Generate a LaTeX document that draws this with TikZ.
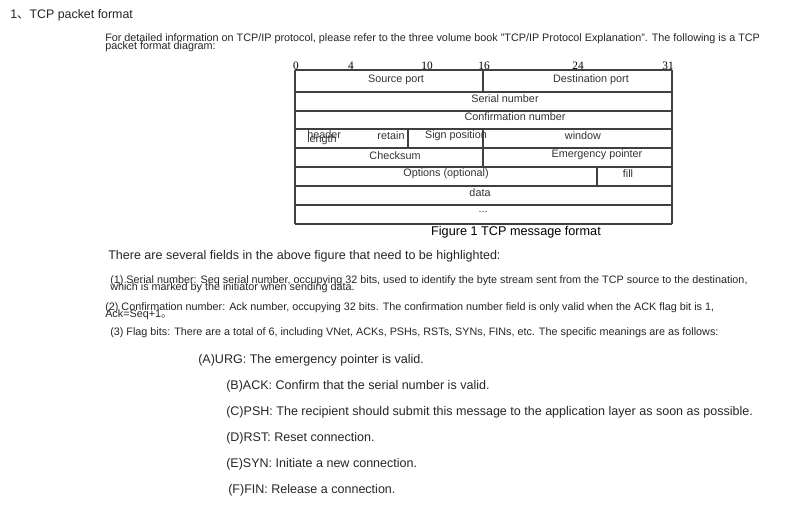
\documentclass[tikz,border=0pt]{standalone}
\usepackage{fontspec}
\setmainfont{Liberation Sans}
\newfontfamily\serifnum{Liberation Serif}
\newfontfamily\cjk{Noto Sans CJK SC}
\begin{document}
\begin{tikzpicture}[x=0.75pt,y=-0.75pt,
  txt/.style={anchor=west,inner sep=0pt,text=black!85},
  small/.style={txt,font=\fontsize{8.1}{9}\selectfont},
  big/.style={txt,font=\fontsize{9.4}{11}\selectfont},
  cell/.style={inner sep=0pt,font=\fontsize{8.1}{8}\selectfont,text=black!80},
  num/.style={inner sep=0pt,font=\serifnum\fontsize{8.5}{9}\selectfont},
  grid/.style={draw=black!75,line width=0.8pt}]
\useasboundingbox[fill=white] (0,0) rectangle (789,506);
\node[txt,font=\fontsize{9.3}{11}\selectfont] (title) at (10,15) {1{\cjk 、}TCP packet format};
\node[small] (i1) at (105,39) {For detailed information on TCP/IP protocol, please refer to the three volume book "TCP/IP Protocol Explanation". The following is a TCP};
\node[small] (i2) at (105,47) {packet format diagram:};
% numbers
\node[num] (n0) at (296,66) {0};
\node[num] (n4) at (351,66) {4};
\node[num] (n10) at (427,66) {10};
\node[num] (n16) at (484,66) {16};
\node[num] (n24) at (578,66) {24};
\node[num] (n31) at (668,66) {31};
% table
\foreach \y in {70,92,111,129,148,167,186,205,224} \draw[grid] (295,\y) -- (672,\y);
\draw[grid] (295,70) -- (295,224);
\draw[grid] (672,70) -- (672,224);
\draw[grid] (483,70) -- (483,92);
\draw[grid] (483,129) -- (483,167);
\draw[grid] (408,129) -- (408,148);
\draw[grid] (597,167) -- (597,186);
\node[cell] (sp) at (396,80) {Source port};
\node[cell] (dp) at (591,80) {Destination port};
\node[cell] (sn) at (505,99) {Serial number};
\node[cell] (cn) at (515,117) {Confirmation number};
\node[cell,anchor=west] (hl1) at (307,135) {header};
\node[cell,anchor=west] (hl2) at (307,140) {length};
\node[cell] (rt) at (391,136) {retain};
\node[cell] (sg) at (456,136) {Sign position};
\node[cell] (wn) at (583,136) {window};
\node[cell] (cs) at (395,156) {Checksum};
\node[cell] (ep) at (597,155) {Emergency pointer};
\node[cell] (op) at (446,174) {Options (optional)};
\node[cell] (fl) at (628,174) {fill};
\node[cell] (dt) at (480,193) {data};
\node[cell] (el) at (483,212) {...};
\node[inner sep=0pt,font=\fontsize{9.5}{11}\selectfont] (cap) at (516,232) {Figure 1 TCP message format};
\node[big] (p0) at (108,256) {There are several fields in the above figure that need to be highlighted:};
\node[small] (a1) at (110,281) {(1) Serial number: Seq serial number, occupying 32 bits, used to identify the byte stream sent from the TCP source to the destination,};
\node[small] (a2) at (110,288) {which is marked by the initiator when sending data.};
\node[small] (b1) at (105,308) {(2) Confirmation number: Ack number, occupying 32 bits. The confirmation number field is only valid when the ACK flag bit is 1,};
\node[small] (b2) at (105,315) {Ack=Seq+1{\cjk 。}};
\node[small] (c1) at (110,333) {(3) Flag bits: There are a total of 6, including VNet, ACKs, PSHs, RSTs, SYNs, FINs, etc. The specific meanings are as follows:};
\node[big] (fa) at (198,360) {(A)URG: The emergency pointer is valid.};
\node[big] (fb) at (226,386) {(B)ACK: Confirm that the serial number is valid.};
\node[big] (fc) at (226,412) {(C)PSH: The recipient should submit this message to the application layer as soon as possible.};
\node[big] (fd) at (226,438) {(D)RST: Reset connection.};
\node[big] (fe) at (226,464) {(E)SYN: Initiate a new connection.};
\node[big] (ff) at (228,490) {(F)FIN: Release a connection.};
\end{tikzpicture}
\end{document}
